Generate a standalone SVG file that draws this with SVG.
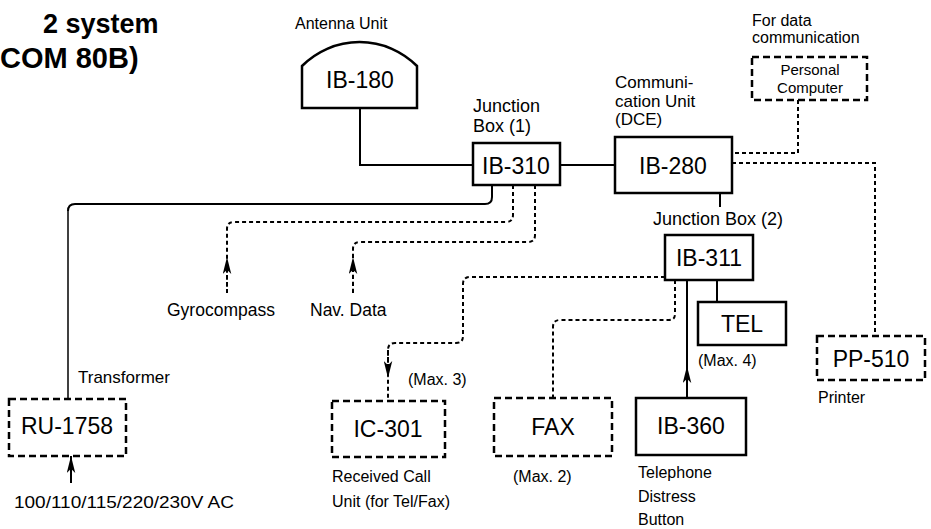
<svg xmlns="http://www.w3.org/2000/svg" width="931" height="529" viewBox="0 0 931 529">
<style>
text{font-family:"Liberation Sans",Arial,sans-serif;fill:#000}
.title{font-size:28px;font-weight:bold}
.lbl{font-size:17px}
.sm{font-size:15px}
.box{font-size:23px;text-anchor:middle}
.solid{fill:#fff;stroke:#000;stroke-width:2.5}
.dash{fill:#fff;stroke:#000;stroke-width:2.5;stroke-dasharray:7 4}
.ln{fill:none;stroke:#000;stroke-width:2}
.dot{fill:none;stroke:#000;stroke-width:2;stroke-dasharray:4 3}
</style>
<defs>
<marker id="ah" viewBox="0 0 16 8" refX="16" refY="4" markerWidth="17" markerHeight="9" markerUnits="userSpaceOnUse" orient="auto">
<path d="M0,0 L16,4 L0,8 L4,4 Z" fill="#000"/>
</marker>
</defs>
<rect width="931" height="529" fill="#fff"/>
<text class="title" x="43" y="33" style="font-size:27px">2 system</text>
<text class="title" x="0" y="68" style="font-size:29px">COM 80B)</text>

<g id="connectors">
<path class="ln" d="M360,108 V165 H473"/>
<path class="ln" d="M560,165 H615"/>
<path class="ln" d="M720,193 V207"/>
<path class="ln" d="M492,185 V197 Q492,204 485,204 H75 Q68,204 68,211"/>
<path class="ln" d="M68,211 V399" style="stroke-width:1.5"/>
<path class="dot" d="M513,185 V215 Q513,222 506,222 H234 Q227,222 227,229 V293"/>
<path class="dot" d="M227,293 V257" marker-end="url(#ah)"/>
<path class="dot" d="M535,185 V235 Q535,242 528,242 H360 Q353,242 353,249 V293"/>
<path class="dot" d="M353,293 V257" marker-end="url(#ah)"/>
<path class="dot" d="M665,277 H470 Q463,277 463,284 V336 Q463,343 456,343 H395 Q388,343 388,350 V401"/>
<path class="dot" d="M388,350 V378" marker-end="url(#ah)"/>
<path class="dot" d="M675,280 V314 Q675,320 669,320 H560 Q553,320 553,327 V398"/>
<path class="ln" d="M687,398 V280"/>
<path class="ln" d="M687,398 V366" marker-end="url(#ah)"/>
<path class="ln" d="M717,280 V302"/>
<path class="dot" d="M798,100 V153 H732"/>
<path class="dot" d="M732,163 H875 V336"/>
<path class="ln" d="M71,483 V456" marker-end="url(#ah)"/>
</g>

<g id="ib180">
<text class="lbl" x="295" y="29" style="font-size:16px">Antenna Unit</text>
<path class="solid" d="M302,108 V66 A81,81 0 0 1 417,66 V108 Z"/>
<text class="box" x="360" y="88">IB-180</text>
</g>
<g id="ib310">
<text class="lbl" x="473" y="112" style="font-size:18px">Junction</text>
<text class="lbl" x="473" y="132" style="font-size:18px">Box (1)</text>
<rect class="solid" x="473" y="143" width="87" height="42"/>
<text class="box" x="516" y="174">IB-310</text>
</g>
<g id="ib280">
<text class="lbl" x="615" y="88">Communi-</text>
<text class="lbl" x="615" y="107">cation Unit</text>
<text class="lbl" x="615" y="125">(DCE)</text>
<rect class="solid" x="615" y="137" width="117" height="56"/>
<text class="box" x="673" y="174">IB-280</text>
</g>
<g id="pc">
<text class="lbl" x="752" y="26" style="font-size:16px">For data</text>
<text class="lbl" x="752" y="43" style="font-size:16px">communication</text>
<rect class="dash" x="752" y="57" width="115" height="43"/>
<text class="sm" x="810" y="75" text-anchor="middle">Personal</text>
<text class="sm" x="810" y="93" text-anchor="middle">Computer</text>
</g>
<g id="ib311">
<text class="lbl" x="653" y="225" style="font-size:18px">Junction Box (2)</text>
<rect class="solid" x="665" y="235" width="88" height="45"/>
<text class="box" x="709" y="266">IB-311</text>
</g>
<g id="tel">
<rect class="solid" x="698" y="302" width="88" height="43"/>
<text class="box" x="742" y="332">TEL</text>
<text class="lbl" x="698" y="366" style="font-size:16px">(Max. 4)</text>
</g>
<g id="ib360">
<rect class="solid" x="636" y="398" width="110" height="57"/>
<text class="box" x="691" y="434">IB-360</text>
<text class="lbl" x="638" y="478" style="font-size:16px">Telephone</text>
<text class="lbl" x="638" y="502" style="font-size:16px">Distress</text>
<text class="lbl" x="638" y="525" style="font-size:16px">Button</text>
</g>
<g id="pp510">
<rect class="dash" x="817" y="336" width="108" height="44"/>
<text class="box" x="871" y="367">PP-510</text>
<text class="lbl" x="818" y="403" style="font-size:16px">Printer</text>
</g>
<g id="ru1758">
<text class="lbl" x="78" y="383">Transformer</text>
<rect class="dash" x="9" y="399" width="117" height="57"/>
<text class="box" x="67" y="434">RU-1758</text>
<text class="lbl" x="14" y="508" style="font-size:17px" textLength="220" lengthAdjust="spacingAndGlyphs">100/110/115/220/230V AC</text>
</g>
<g id="gyro">
<text class="lbl" x="167" y="316" style="font-size:17.5px">Gyrocompass</text>
</g>
<g id="nav">
<text class="lbl" x="310" y="316" style="font-size:17.5px">Nav. Data</text>
</g>
<g id="ic301">
<text class="lbl" x="408" y="385" style="font-size:16px">(Max. 3)</text>
<rect class="dash" x="332" y="401" width="113" height="56"/>
<text class="box" x="388" y="437">IC-301</text>
<text class="lbl" x="332" y="482" style="font-size:16px">Received Call</text>
<text class="lbl" x="332" y="507" style="font-size:16px">Unit (for Tel/Fax)</text>
</g>
<g id="fax">
<rect class="dash" x="494" y="398" width="118" height="58"/>
<text class="box" x="553" y="435">FAX</text>
<text class="lbl" x="513" y="482" style="font-size:16px">(Max. 2)</text>
</g>
</svg>
